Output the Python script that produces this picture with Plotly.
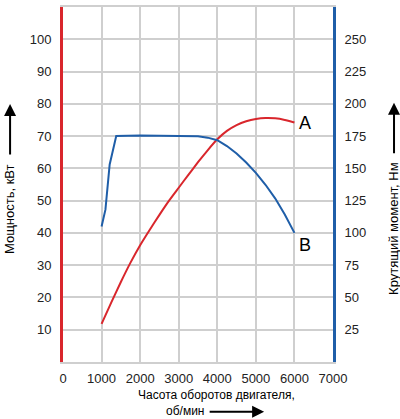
import plotly.graph_objects as go

# engine speed, rpm
rpm_power = [1000, 1250, 1500, 1750, 2000, 2250, 2500, 2750, 3000, 3250, 3500,
             3750, 4000, 4250, 4500, 4750, 5000, 5250, 5500, 5750, 6000]
# curve A: power, kW
power_kw = [11.8, 18.4, 24.8, 30.8, 36.2, 41, 45.6, 50, 54, 58, 61.9,
            65.6, 69, 71.6, 73.4, 74.6, 75.3, 75.6, 75.5, 75.0, 74.2]

rpm_torque = [1000, 1100, 1210, 1380, 2000, 3000, 3500, 3750, 4000, 4250, 4500,
              4750, 5000, 5250, 5500, 5750, 6000]
# curve B: torque, Nm
torque_nm = [105, 118, 153, 175, 175.5, 175.2, 174.8, 173.8, 171.8, 167.3, 161.5,
             154.5, 146.5, 137.3, 126.8, 114.3, 100]

x_ticks = [0, 1000, 2000, 3000, 4000, 5000, 6000, 7000]
power_ticks = [10, 20, 30, 40, 50, 60, 70, 80, 90, 100]
torque_ticks = [25, 50, 75, 100, 125, 150, 175, 200, 225, 250]

RED = '#d9262c'
BLUE = '#1f5ea8'
GRID = '#cfcfcf'
FONT = 'Liberation Sans, Arial, sans-serif'

fig = go.Figure()

fig.add_trace(go.Scatter(
    x=rpm_power, y=power_kw, mode='lines',
    line=dict(color=RED, width=2, shape='spline', smoothing=0.6),
    showlegend=False, hoverinfo='skip'
))

fig.add_trace(go.Scatter(
    x=rpm_torque, y=torque_nm, mode='lines', yaxis='y2',
    line=dict(color=BLUE, width=2),
    showlegend=False, hoverinfo='skip'
))

# curve labels
fig.add_annotation(x=6270, y=74.2, text='A', showarrow=False, xanchor='center',
                   font=dict(size=18, color='black', family=FONT))
fig.add_annotation(x=6270, y=91, yref='y2', text='B', showarrow=False, xanchor='center',
                   font=dict(size=18, color='black', family=FONT))

title_font = dict(size=13, color='black', family=FONT)
xtitle_font = dict(size=12, color='black', family=FONT)

# axis titles with arrows
fig.add_annotation(xref='paper', yref='paper', x=-0.196, y=0.431, text='Мощность, кВт',
                   textangle=-90, showarrow=False, xanchor='center', yanchor='middle',
                   font=title_font)
fig.add_annotation(xref='paper', yref='paper', x=-0.196, y=0.727, ax=0, ay=52, text='',
                   showarrow=True, arrowhead=2, arrowsize=1.2, arrowwidth=2, arrowcolor='black')

fig.add_annotation(xref='paper', yref='paper', x=1.226, y=0.375, text='Крутящий момент, Нм',
                   textangle=-90, showarrow=False, xanchor='center', yanchor='middle',
                   font=title_font)
fig.add_annotation(xref='paper', yref='paper', x=1.226, y=0.73, ax=0, ay=52, text='',
                   showarrow=True, arrowhead=2, arrowsize=1.2, arrowwidth=2, arrowcolor='black')

fig.add_annotation(xref='paper', yref='paper', x=0.57, y=-0.094, text='Часота оборотов двигателя,',
                   showarrow=False, xanchor='center', yanchor='middle', font=xtitle_font)
fig.add_annotation(xref='paper', yref='paper', x=0.45, y=-0.138, text='об/мин',
                   showarrow=False, xanchor='center', yanchor='middle', font=xtitle_font)
fig.add_annotation(xref='paper', yref='paper', x=0.745, y=-0.14, ax=-56, ay=0, text='',
                   showarrow=True, arrowhead=2, arrowsize=1.2, arrowwidth=2, arrowcolor='black')

fig.update_layout(
    width=400, height=419,
    margin=dict(l=63, r=67, t=5, b=57),
    paper_bgcolor='white', plot_bgcolor='white',
    font=dict(family=FONT, size=13, color='#222222'),
    xaxis=dict(
        range=[0, 7000], tickvals=x_ticks, showgrid=True, gridcolor=GRID, gridwidth=2,
        zeroline=False, showline=True, mirror=True, linecolor=GRID, linewidth=2,
        ticks='outside', ticklen=3, tickcolor='rgba(0,0,0,0)',
    ),
    yaxis=dict(
        range=[0, 110], tickvals=power_ticks, showgrid=True, gridcolor=GRID, gridwidth=2,
        zeroline=False, showline=True, linecolor=RED, linewidth=3,
        ticks='outside', ticklen=6, tickcolor='rgba(0,0,0,0)',
    ),
    yaxis2=dict(
        range=[0, 275], tickvals=torque_ticks, overlaying='y', side='right',
        showgrid=False, zeroline=False, showline=True, linecolor=BLUE, linewidth=3,
        ticks='outside', ticklen=6, tickcolor='rgba(0,0,0,0)',
    ),
)

# drop the page's default body margin so the figure sits at the window's corner
fig.write_html("out.html", config={'displayModeBar': False},
               post_script="document.body.style.margin='0';")
